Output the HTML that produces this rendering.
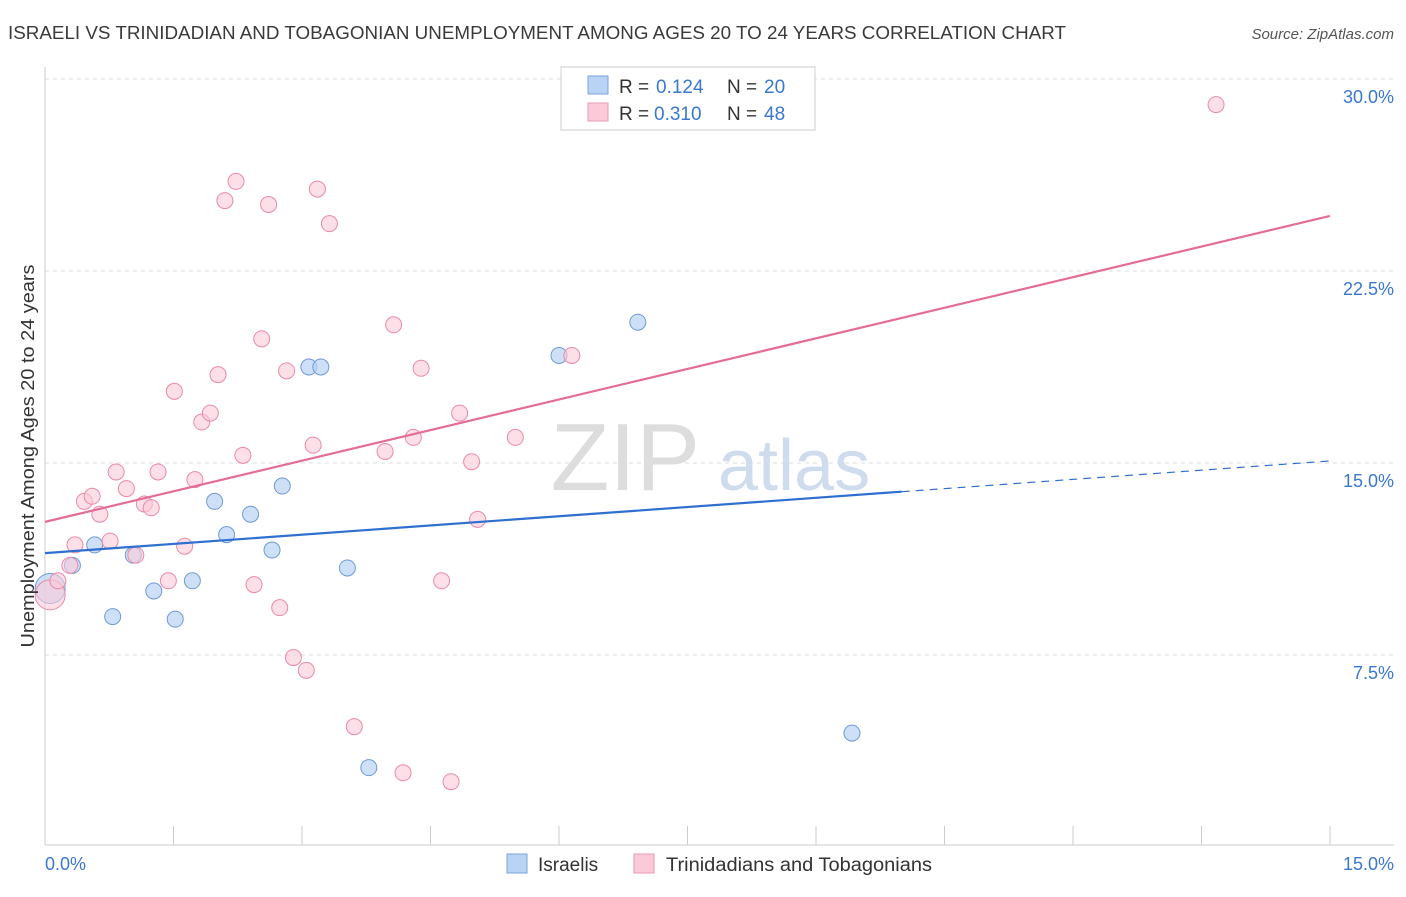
<!DOCTYPE html>
<html><head><meta charset="utf-8"><style>
body{margin:0;background:#fff;font-family:"Liberation Sans",sans-serif}
svg text{font-family:"Liberation Sans",sans-serif}
</style></head><body>
<svg width="1406" height="892" xmlns="http://www.w3.org/2000/svg">
<text x="8" y="39" font-size="18" fill="#3a3a3a" textLength="1058" lengthAdjust="spacingAndGlyphs">ISRAELI VS TRINIDADIAN AND TOBAGONIAN UNEMPLOYMENT AMONG AGES 20 TO 24 YEARS CORRELATION CHART</text>
<text x="1394" y="39" font-size="15" fill="#555" text-anchor="end" font-style="italic">Source: ZipAtlas.com</text>
<g id="grid"></g>
<text x="700" y="490" font-size="96" fill="#ddd" text-anchor="end" font-family="Liberation Serif">ZIP</text>
<text x="718" y="490" font-size="72" fill="#cfdcee">atlas</text>
<line x1="45" y1="67" x2="45" y2="845" stroke="#ccc"/>
<line x1="45" y1="845" x2="1394" y2="845" stroke="#ccc"/>
<g id="ticks"></g>
<g id="pts"></g>
<g id="lines"></g>
<text x="0" y="0" font-size="18" fill="#333" text-anchor="middle" textLength="383" lengthAdjust="spacingAndGlyphs" transform="translate(34 456) rotate(-90)">Unemployment Among Ages 20 to 24 years</text>
<text x="45" y="870" font-size="18" fill="#3a78d0">0.0%</text>
<text x="1394" y="870" font-size="18" fill="#3a78d0" text-anchor="end">15.0%</text>
<g>
<rect x="561" y="67" width="254" height="63" fill="#fff" stroke="#ccc"/>
<rect x="588" y="76" width="20" height="18" fill="#b9d3f5" stroke="#7aa3db"/>
<rect x="588" y="103" width="20" height="18" fill="#fbcad8" stroke="#eb9ab3"/>
<text x="619" y="93" font-size="19" fill="#333">R =</text>
<text x="656" y="93" font-size="19" fill="#3a78d0">0.124</text>
<text x="727" y="93" font-size="19" fill="#333">N =</text>
<text x="764" y="93" font-size="19" fill="#3a78d0">20</text>
<text x="619" y="120" font-size="19" fill="#333">R =</text>
<text x="654" y="120" font-size="19" fill="#3a78d0">0.310</text>
<text x="727" y="120" font-size="19" fill="#333">N =</text>
<text x="764" y="120" font-size="19" fill="#3a78d0">48</text>
</g>
<g>
<rect x="507" y="854" width="20" height="19" fill="#b9d3f5" stroke="#7aa3db"/>
<text x="538" y="871" font-size="19" fill="#333">Israelis</text>
<rect x="634" y="854" width="20" height="19" fill="#fbcad8" stroke="#eb9ab3"/>
<text x="666" y="871" font-size="19" fill="#333" textLength="266" lengthAdjust="spacingAndGlyphs">Trinidadians and Tobagonians</text>
</g>
</svg>
<script>
const yTicks=[7.5,15,22.5,30];
const yTickLabels=["7.5%","15.0%","22.5%","30.0%"];
const xTicks=[0,1.5,3,4.5,6,7.5,9,10.5,12,13.5,15];
const blueX=[0.06,0.32,0.58,0.79,1.03,1.27,1.52,1.72,1.98,2.12,2.40,2.65,2.77,3.08,3.22,3.53,3.78,6.0,6.92,9.42];
const blueY=[10.1,11.0,11.8,9.0,11.4,10.0,8.9,10.4,13.5,12.2,13.0,11.6,14.1,18.75,18.75,10.9,3.1,19.2,20.5,4.45];
const pinkX=[0.06,0.15,0.29,0.35,0.46,0.55,0.64,0.76,0.83,0.95,1.06,1.16,1.24,1.32,1.44,1.51,1.63,1.75,1.83,1.93,2.02,2.10,2.23,2.31,2.44,2.53,2.61,2.74,2.82,2.90,3.05,3.13,3.18,3.32,3.61,3.97,4.07,4.18,4.30,4.39,4.63,4.74,4.84,4.98,5.05,5.49,6.15,13.67];
const pinkY=[9.85,10.4,11.0,11.8,13.5,13.7,13.0,11.95,14.65,14.0,11.4,13.4,13.25,14.65,10.4,17.8,11.75,14.35,16.6,16.95,18.45,25.25,26.0,15.3,10.25,19.85,25.1,9.35,18.6,7.4,6.9,15.7,25.7,24.35,4.7,15.45,20.4,2.9,16.0,18.7,10.4,2.55,16.95,15.05,12.8,16.0,19.2,29.0];
const blueLine=[11.48,15.08];
const pinkLine=[12.7,24.65];
const NS="http://www.w3.org/2000/svg";
const X=v=>45+v*(1285/15), Y=v=>847-v*25.6;
function mk(t,a,p){const e=document.createElementNS(NS,t);for(const k in a)e.setAttribute(k,a[k]);p.appendChild(e);return e;}
const grid=document.getElementById('grid');
yTicks.forEach((v,i)=>{
 const l=mk('line',{x1:45,x2:1394,y1:Y(v),y2:Y(v),stroke:'#ddd','stroke-dasharray':'4,4'},grid);
 
 
 const t=mk('text',{x:1394,y:Y(v)+24,'font-size':18,fill:'#3a78d0','text-anchor':'end'},grid);
 t.textContent=yTickLabels[i];
 
 
});
const tk=document.getElementById('ticks');
xTicks.forEach(v=>{const l=mk('line',{x1:X(v),x2:X(v),y1:826,y2:845,stroke:'#ccc'},tk);
 
 });
const pts=document.getElementById('pts');
blueX.forEach((x,i)=>{const c=mk('circle',{cx:X(x),cy:Y(blueY[i]),r:i==0?15:8,fill:'#b9d3f5','fill-opacity':0.7,stroke:'#6f9ad6','stroke-width':1},pts);
 
 });
pinkX.forEach((x,i)=>{const c=mk('circle',{cx:X(x),cy:Y(pinkY[i]),r:i==0?15:8,fill:'#fbcad8','fill-opacity':0.6,stroke:'#e98aa8','stroke-width':1},pts);
 
 });
const ln=document.getElementById('lines');
const bAt=v=>blueLine[0]+(blueLine[1]-blueLine[0])*v/15;
let l1=mk('line',{x1:X(0),y1:Y(bAt(0)),x2:X(10),y2:Y(bAt(10)),stroke:'#2e6fd0','stroke-width':2.2},ln);


let l2=mk('line',{x1:X(10),y1:Y(bAt(10)),x2:X(15),y2:Y(bAt(15)),stroke:'#2e6fd0','stroke-width':1.2,'stroke-dasharray':'8,6'},ln);


let l3=mk('line',{x1:X(0),y1:Y(pinkLine[0]),x2:X(15),y2:Y(pinkLine[1]),stroke:'#e46d96','stroke-width':2.2},ln);


</script>
</body></html>
